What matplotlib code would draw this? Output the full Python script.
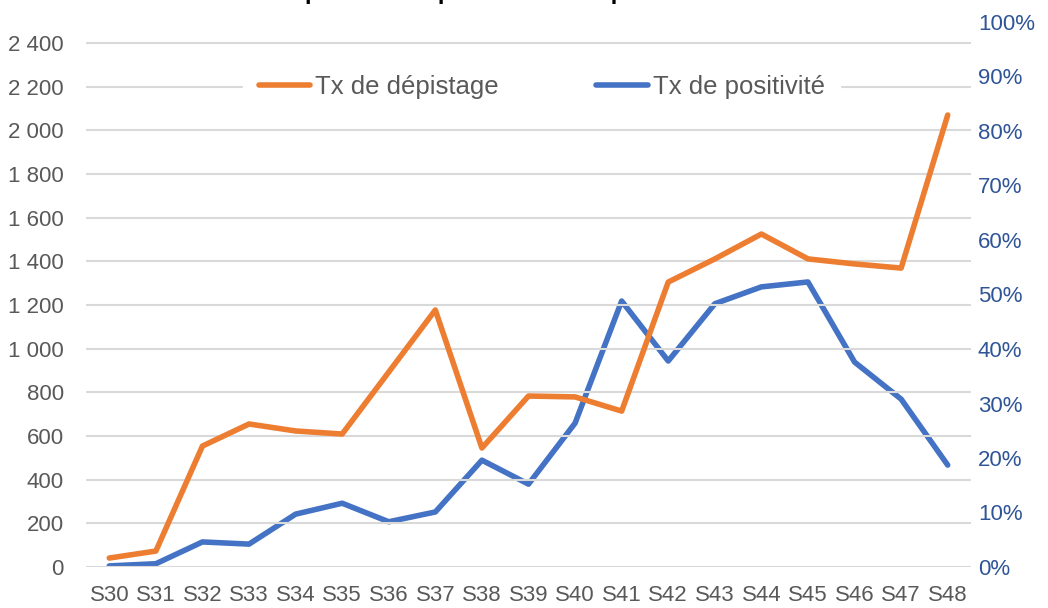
import matplotlib.pyplot as plt
from matplotlib.ticker import FuncFormatter, MultipleLocator
from matplotlib.lines import Line2D

plt.rcParams['font.family'] = ['Liberation Sans', 'DejaVu Sans']

# data
semaines = ["S30", "S31", "S32", "S33", "S34", "S35", "S36", "S37", "S38", "S39",
            "S40", "S41", "S42", "S43", "S44", "S45", "S46", "S47", "S48"]
tx_depistage = [41, 73, 554, 655, 623, 609, 893, 1177, 545, 783,
                779, 714, 1305, 1411, 1525, 1411, 1388, 1369, 2070]
tx_positivite = [0.002, 0.006, 0.046, 0.042, 0.097, 0.117, 0.083, 0.101, 0.196, 0.152,
                 0.264, 0.488, 0.378, 0.483, 0.514, 0.523, 0.376, 0.308, 0.187]

orange = "#ED7D31"
blue = "#4472C4"

fig = plt.figure(figsize=(10.48, 6.08), dpi=100)
ax = fig.add_axes([86 / 1048, 1 - 567 / 608, (971 - 86) / 1048, (567 - 22) / 608])
ax2 = ax.twinx()
ax.set_zorder(2)
ax.patch.set_visible(False)
ax2.set_zorder(1)

x = range(len(semaines))
ax.plot(x, tx_depistage, color=orange, lw=4.0, solid_capstyle='round',
        solid_joinstyle='round', zorder=3)
ax2.plot(x, tx_positivite, color=blue, lw=4.0, solid_capstyle='round',
         solid_joinstyle='round', zorder=3)

ax.set_xlim(-0.5, len(semaines) - 0.5)
ax.set_ylim(0, 2496)
ax2.set_ylim(0, 1)
ax.yaxis.set_major_locator(MultipleLocator(200))
ax2.yaxis.set_major_locator(MultipleLocator(0.1))
ax.yaxis.set_major_formatter(FuncFormatter(lambda v, p: f"{int(v):,}".replace(",", " ")))
ax2.yaxis.set_major_formatter(FuncFormatter(lambda v, p: f"{v * 100:.0f}%"))

ax.set_xticks(list(x))
ax.set_xticklabels(semaines)
ax.grid(axis='y', color='#d9d9d9', lw=1.5)
ax.set_axisbelow(True)
for a in (ax, ax2):
    for s in a.spines.values():
        s.set_visible(False)
ax.tick_params(axis='both', length=0, labelsize=16, colors='#595959')
ax.tick_params(axis='y', pad=16)
ax.tick_params(axis='x', pad=13)
ax2.tick_params(axis='y', length=0, labelsize=16, colors='#2F5597', pad=5)

handles = [Line2D([], [], color=orange, lw=4.0, solid_capstyle='round'),
           Line2D([], [], color=blue, lw=4.0, solid_capstyle='round')]
leg = ax.legend(handles, ["Tx de dépistage", "Tx de positivité"], loc='center',
                bbox_to_anchor=(0.515, 1 - (87 - 22) / 545), ncol=2, frameon=True,
                fontsize=18.5, handlelength=2.0, handletextpad=0.2, columnspacing=3.8,
                borderpad=0.6, borderaxespad=0)
leg.get_frame().set_facecolor('white')
leg.get_frame().set_edgecolor('white')
leg.get_frame().set_alpha(1)
for t in leg.get_texts():
    t.set_color('#595959')

fig.text(527 / 1048, 1 + 1 / 608, "par date de prélèvement et par semaine",
         ha='center', va='baseline', fontsize=17, fontweight='bold', color='black')

fig.savefig("out.png", dpi=100)
